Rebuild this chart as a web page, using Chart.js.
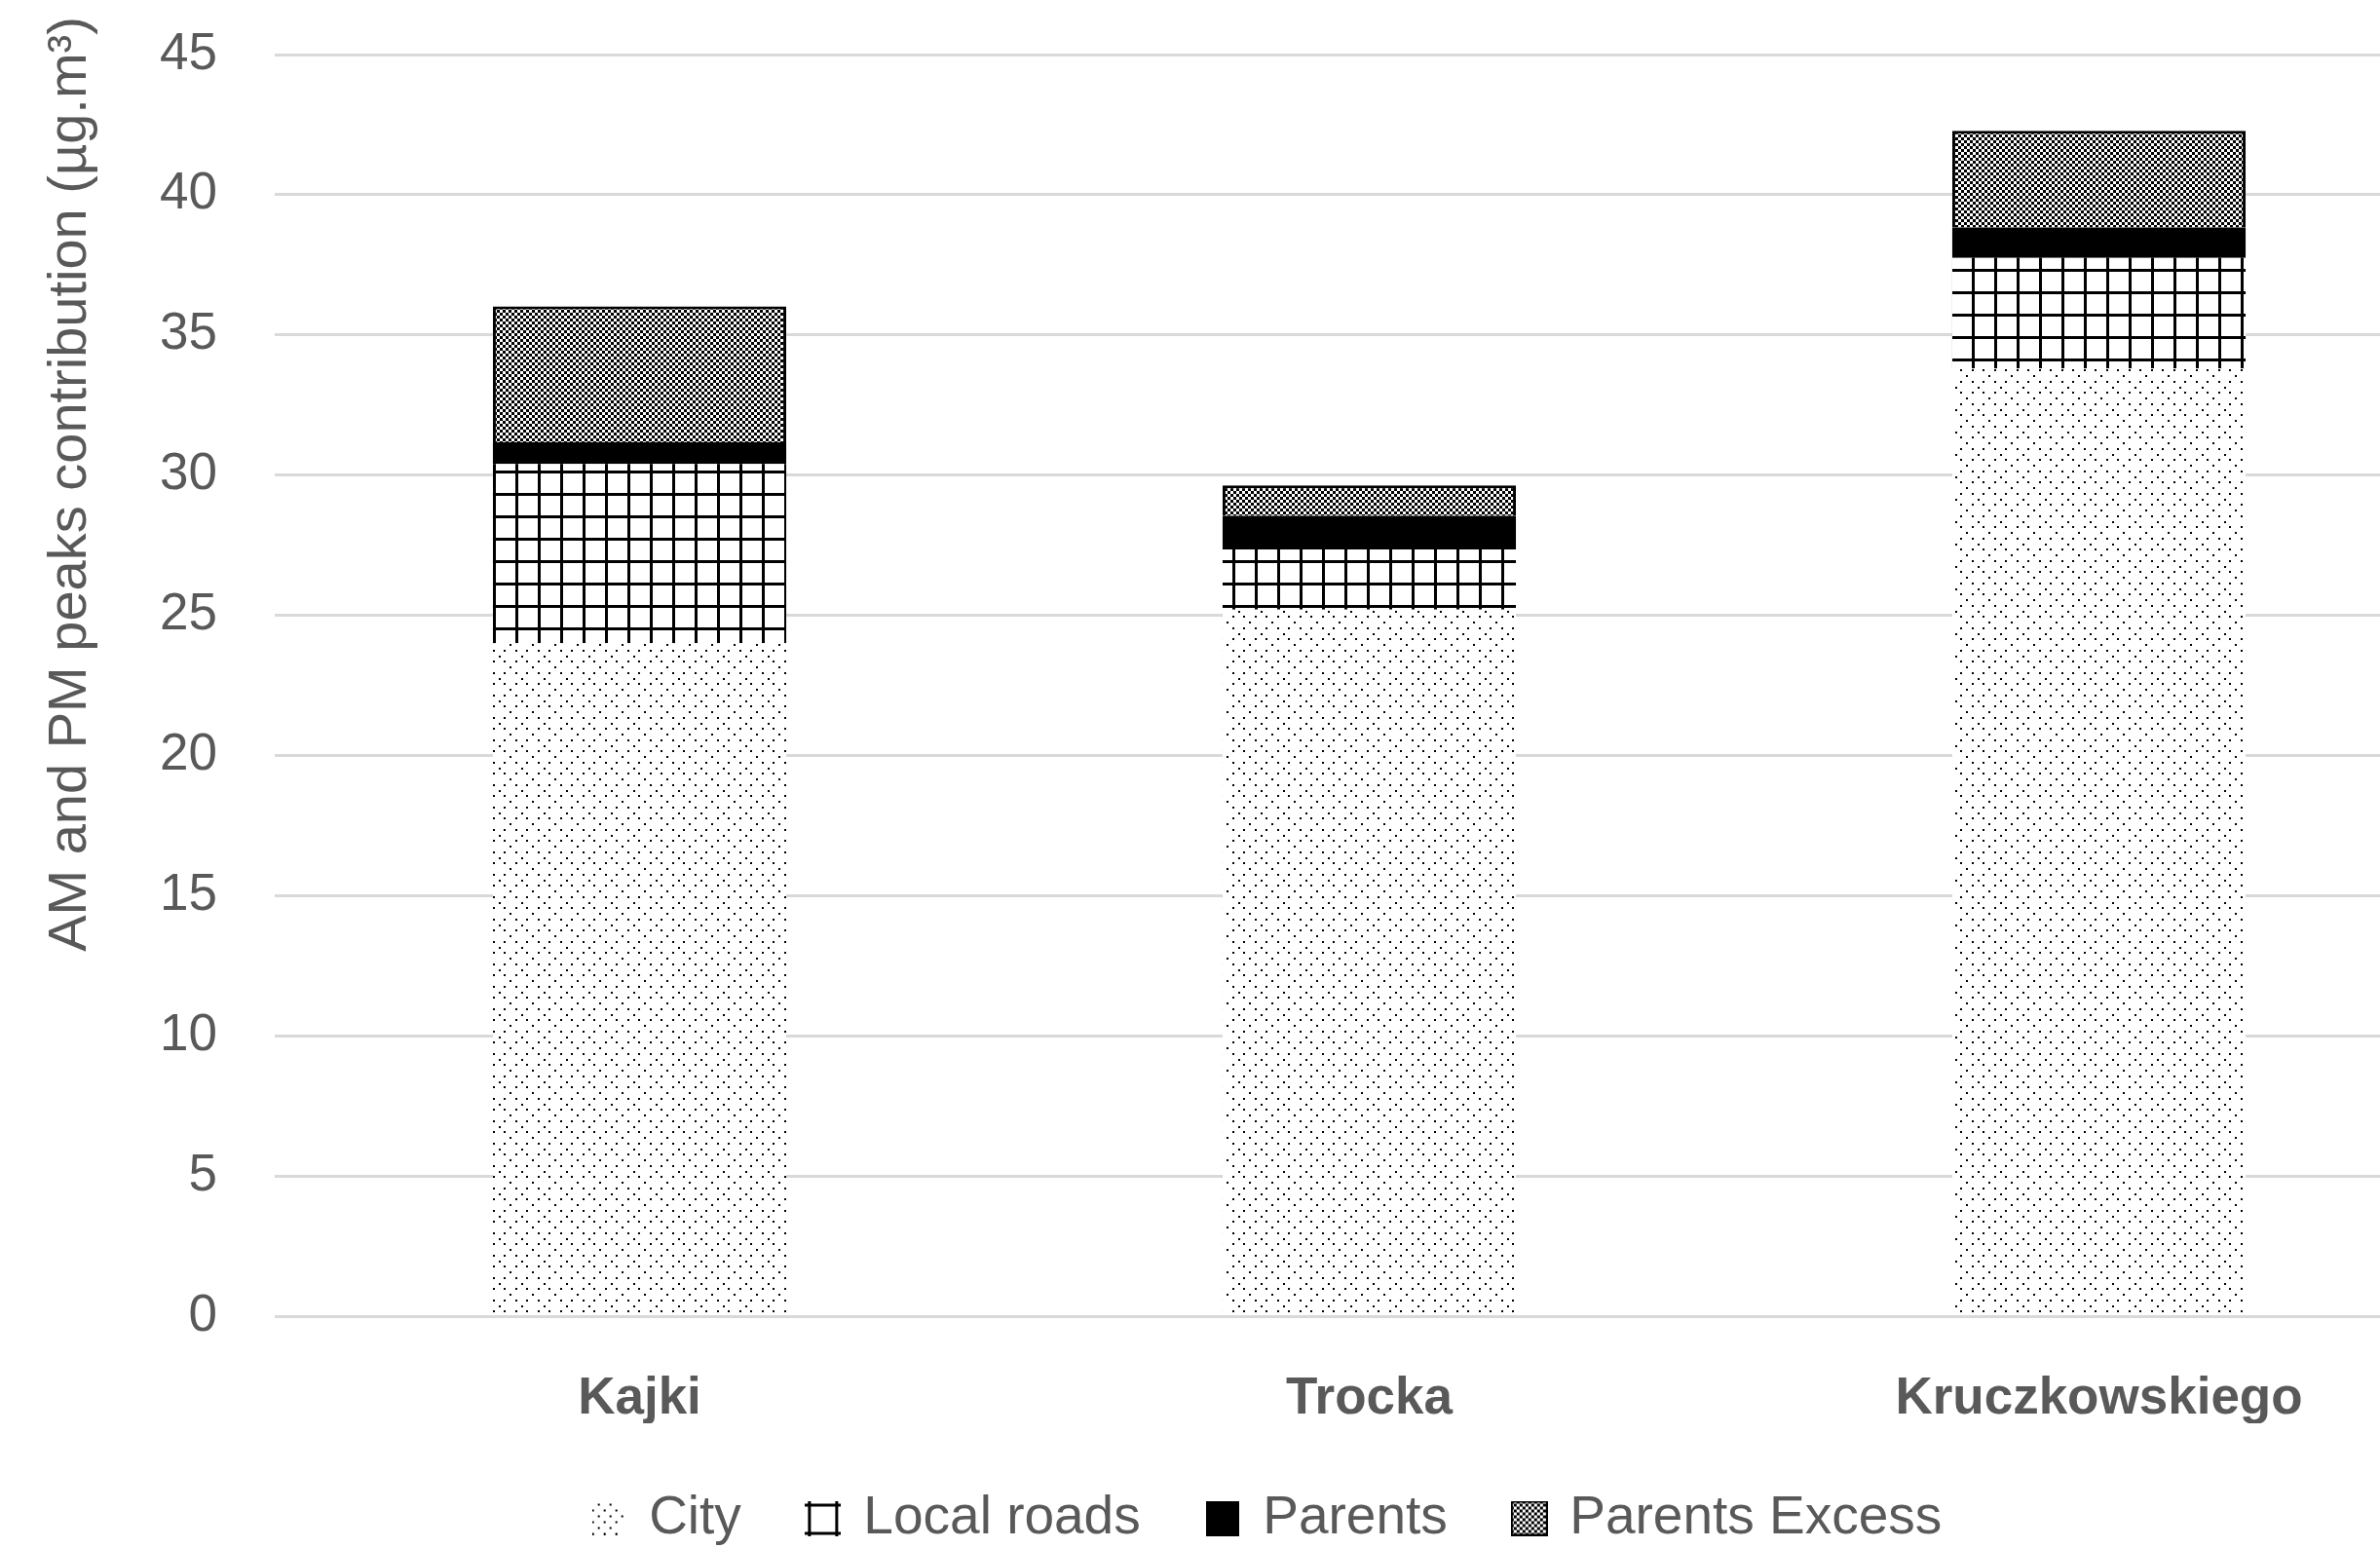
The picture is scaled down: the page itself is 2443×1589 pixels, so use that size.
<!DOCTYPE html>
<html>
<head>
<meta charset="utf-8">
<title>AM and PM peaks contribution</title>
<script src="https://cdn.jsdelivr.net/npm/chart.js@4.4.1/dist/chart.umd.min.js"></script>
<style>
  html, body { margin: 0; padding: 0; background: #fff; overflow: hidden; }
  #wrap { width: 2529px; height: 1596px; }
</style>
</head>
<body>
<div id="wrap"><canvas id="chart" width="2529" height="1596"></canvas></div>
<script>
// Source contributions per school site (µg/m3)
const sites = ['Kajki', 'Trocka', 'Kruczkowskiego'];
const city = [24.0, 25.2, 33.8];
const localRoads = [6.4, 2.15, 3.95];
const parents = [0.77, 1.2, 1.08];
const parentsExcess = [4.85, 1.08, 3.45];
const yTicks = [0, 5, 10, 15, 20, 25, 30, 35, 40, 45];

const TEXT = '#595959';
const FONT = "'Liberation Sans', Arial, sans-serif";

// small black/white canvases used as bar fills and legend icons
function tile(w, h, paint) {
    const c = document.createElement('canvas');
    c.width = w;
    c.height = h;
    const g = c.getContext('2d');
    g.fillStyle = '#fff';
    g.fillRect(0, 0, w, h);
    g.fillStyle = '#000';
    paint(g);
    return c;
}

function paintDots(g) {
    [[0, 0], [11, 0], [6, 6], [0, 11], [11, 11], [17, 17]].forEach(([x, y]) => g.fillRect(x, y, 2, 2));
}
function paintChecker(g, w, h) {
    for (let y = 0; y < h; y += 3) {
        for (let x = (y / 3) % 2 ? 3 : 0; x < w; x += 6) g.fillRect(x, y, 3, 3);
    }
}

const dotTile = tile(23, 23, paintDots);
const gridTile = tile(23, 23, g => {
    g.fillRect(0, 0, 23, 3);
    g.fillRect(0, 0, 3, 23);
});
const checkTile = tile(6, 6, g => paintChecker(g, 6, 6));

// legend icons
const legendIcons = [
    tile(34, 34, g => {
        [[6, 2], [18, 2], [0, 8], [12, 8], [24, 8], [6, 14], [18, 14], [30, 14], [0, 20], [12, 20], [24, 20], [6, 26], [18, 26], [0, 32], [12, 32], [24, 32]]
            .forEach(([x, y]) => g.fillRect(x, y, 2, 2));
    }),
    tile(37, 36, g => {
        g.fillRect(0, 3, 37, 3);
        g.fillRect(0, 32, 37, 3);
        g.fillRect(3, 0, 3, 36);
        g.fillRect(31, 0, 3, 36);
    }),
    tile(34, 36, g => g.fillRect(0, 0, 34, 36)),
    tile(38, 36, g => {
        paintChecker(g, 38, 36);
        g.lineWidth = 2;
        g.strokeRect(1, 1, 36, 34);
    })
];

// rotated axis title, placed beside the tick labels
const yTitle = {
    id: 'yTitle',
    afterDraw(chart) {
        const ctx = chart.ctx;
        ctx.save();
        ctx.translate(73, 497);
        ctx.rotate(-Math.PI / 2);
        ctx.font = '56px ' + FONT;
        ctx.fillStyle = TEXT;
        ctx.textAlign = 'center';
        ctx.textBaseline = 'middle';
        ctx.fillText('AM and PM peaks contribution (µg.m³)', 0, 0);
        ctx.restore();
    }
};

const canvas = document.getElementById('chart');
const ctx = canvas.getContext('2d');

const barOpts = {
    barPercentage: 0.402,
    categoryPercentage: 1
};

new Chart(ctx, {
    type: 'bar',
    data: {
        labels: sites,
        datasets: [
            { label: 'City', data: city, backgroundColor: ctx.createPattern(dotTile, 'repeat'), borderWidth: 0, ...barOpts },
            { label: 'Local roads', data: localRoads, backgroundColor: ctx.createPattern(gridTile, 'repeat'), borderWidth: 0, ...barOpts },
            { label: 'Parents', data: parents, backgroundColor: '#000', borderColor: '#000', borderWidth: 0, ...barOpts },
            { label: 'Parents Excess', data: parentsExcess, backgroundColor: ctx.createPattern(checkTile, 'repeat'), borderColor: '#000', borderWidth: 3, ...barOpts }
        ]
    },
    options: {
        responsive: false,
        animation: false,
        devicePixelRatio: 1,
        layout: {
            padding: { top: 56, left: 75, right: 0, bottom: 0 }
        },
        plugins: {
            legend: {
                position: 'bottom',
                labels: {
                    color: TEXT,
                    font: { size: 55, family: FONT },
                    boxWidth: 28,
                    boxHeight: 36,
                    padding: 70,
                    usePointStyle: true,
                    generateLabels: chart => {
                        const items = Chart.defaults.plugins.legend.labels.generateLabels(chart);
                        items.forEach((item, i) => { item.pointStyle = legendIcons[i]; });
                        return items;
                    }
                }
            },
            tooltip: { enabled: false }
        },
        scales: {
            x: {
                stacked: true,
                grid: { display: false, drawTicks: false },
                border: { display: false },
                afterFit: scale => {
                    // keep the padding above the labels only
                    scale.height = 110;
                },
                ticks: {
                    color: TEXT,
                    padding: 54,
                    font: { size: 53, family: FONT, weight: 'bold' }
                }
            },
            y: {
                stacked: true,
                min: yTicks[0],
                max: yTicks[yTicks.length - 1],
                afterBuildTicks: scale => {
                    scale.ticks = yTicks.map(v => ({ value: v }));
                },
                afterFit: scale => {
                    scale.width = 207;
                    // tick padding is horizontal only here
                    scale.paddingTop = 0;
                    scale.paddingBottom = 0;
                },
                grid: { color: '#d9d9d9', lineWidth: 3, drawTicks: false },
                border: { display: false },
                ticks: {
                    color: TEXT,
                    padding: 59,
                    font: { size: 53, family: FONT }
                }
            }
        }
    },
    plugins: [yTitle]
});
</script>
</body>
</html>
